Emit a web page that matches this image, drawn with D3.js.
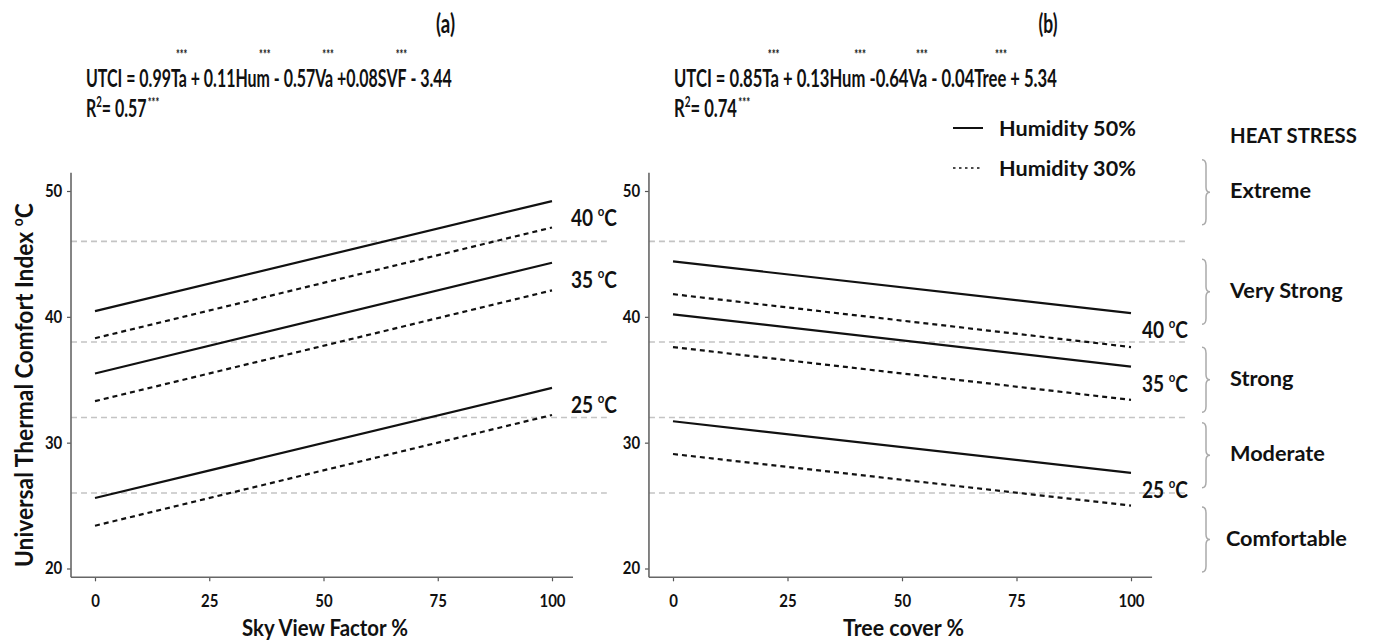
<!DOCTYPE html>
<html>
<head>
<meta charset="utf-8">
<script src="https://cdn.jsdelivr.net/npm/d3@7"></script>
<style>
  body { margin: 0; background: #fff; }
  svg { display: block; }
  text { font-family: Lato, "Open Sans", sans-serif; font-weight: 700; fill: #111; }
</style>
</head>
<body>
<svg id="chart" width="1373" height="641"></svg>
<script>
// values (UTCI, deg C) at 0% and 100% of the x variable
var tempLabels = ["40", "35", "25"];
var xEnds = [0, 100];
var svfHum50Start = [40.45, 35.5, 25.6];
var svfHum50End = [49.2, 44.3, 34.35];
var svfHum30Start = [38.3, 33.3, 23.4];
var svfHum30End = [47.1, 42.1, 32.2];
var treeHum50Start = [44.4, 40.2, 31.7];
var treeHum50End = [40.3, 36.05, 27.6];
var treeHum30Start = [41.8, 37.6, 29.1];
var treeHum30End = [37.6, 33.4, 25.0];
var thresholds = [46, 38, 32, 26];
var stressLabels = ["Extreme", "Very Strong", "Strong", "Moderate", "Comfortable"];
var stressLow = [46, 38, 32, 26, 18.6];
var stressHigh = [53.8, 46, 38, 32, 26];
var xTicks = [0, 25, 50, 75, 100];
var yTicks = [20, 30, 40, 50];

var svg = d3.select("#chart");

var ys = d3.scaleLinear().domain([20, 50]).range([568.5, 191]);
var xLo = -5.25, xHi = 104.6, yLo = 19.3, yHi = 51.45, refEnd = 112;

// one text element made of plain runs, inline superscripts and "***" marks
// placed over the end of the previous term
function richText(parent, x, y, opts, parts) {
  var g = parent.append("g");
  var t = g.append("text").attr("font-size", opts.size).style("white-space", "pre");
  var raise = 0, back = 0, hidden = 0;
  parts.forEach(function (p) {
    var kind = p[0], str = p[1], o = p[2] || {};
    var ts = t.append("tspan").text(str);
    if (kind === "star") {
      ts.attr("font-size", opts.starSize || 14);
      var sw = ts.node().getComputedTextLength();
      var dy = o.dy != null ? o.dy : -28;
      if (o.after) {
        ts.attr("dx", o.dx || 2);
        back = 0;
      } else {
        var over = o.over != null ? o.over : 8;
        ts.attr("dx", -(over + sw / 2));
        back = over - sw / 2;
        hidden += sw;
      }
      ts.attr("dy", dy - raise);
      raise = dy;
      return;
    }
    if (kind === "sup") {
      var d = -opts.size * 0.42;
      ts.attr("font-size", opts.size * 0.6).attr("dy", d - raise);
      raise = d;
    } else {
      if (raise) ts.attr("dy", -raise);
      if (back) ts.attr("dx", back);
      raise = 0;
      back = 0;
    }
  });
  var w = t.node().getComputedTextLength() - hidden;
  var sx = opts.width ? opts.width / w : (opts.sx || 1);
  var shift = opts.anchor === "middle" ? -w / 2 : opts.anchor === "end" ? -w : 0;
  t.attr("x", shift);
  g.attr("transform", "translate(" + x + "," + y + ")" +
    (opts.rotate ? " rotate(" + opts.rotate + ")" : "") + " scale(" + sx + ",1)");
  return sx;
}

var panels = [
  {
    x0: 95, x1: 552, title: "(a)", titleX: 445.5, labelDx: 65,
    xLabel: "Sky View Factor %", xLabelW: 166,
    h50s: svfHum50Start, h50e: svfHum50End, h30s: svfHum30Start, h30e: svfHum30End,
    eqX: 86, eqW: 366,
    eq: [["t", "UTCI = 0.99Ta"], ["star", "***"], ["t", " + 0.11Hum"], ["star", "***"],
         ["t", " - 0.57Va"], ["star", "***"], ["t", " +0.08SVF"], ["star", "***"], ["t", " - 3.44"]],
    r2: "= 0.57"
  },
  {
    x0: 673, x1: 1131, title: "(b)", titleX: 1048, labelDx: 57,
    xLabel: "Tree cover %", xLabelW: 121,
    h50s: treeHum50Start, h50e: treeHum50End, h30s: treeHum30Start, h30e: treeHum30End,
    eqX: 674, eqW: 383,
    eq: [["t", "UTCI = 0.85Ta"], ["star", "***"], ["t", " + 0.13Hum"], ["star", "***"],
         ["t", " -0.64Va"], ["star", "***"], ["t", " - 0.04Tree"], ["star", "***"], ["t", " + 5.34"]],
    r2: "= 0.74"
  }
];

var tempSx = null;

panels.forEach(function (p) {
  var xs = d3.scaleLinear().domain([0, 100]).range([p.x0, p.x1]);
  var g = svg.append("g");

  // heat stress thresholds
  g.selectAll("line.thr").data(thresholds).join("line")
    .attr("class", "thr")
    .attr("x1", xs(xLo)).attr("x2", xs(refEnd))
    .attr("y1", function (d) { return ys(d); })
    .attr("y2", function (d) { return ys(d); })
    .attr("stroke", "#c4c4c4").attr("stroke-width", 1.6)
    .attr("stroke-dasharray", "6,4");

  // axes
  var ax = g.append("g")
    .attr("transform", "translate(0," + ys(yLo) + ")")
    .call(d3.axisBottom(xs).tickValues(xTicks).tickSize(4).tickPadding(14).tickSizeOuter(0));
  var ay = g.append("g")
    .attr("transform", "translate(" + xs(xLo) + ",0)")
    .call(d3.axisLeft(ys).tickValues(yTicks).tickSize(4).tickPadding(6).tickSizeOuter(0));
  [ax, ay].forEach(function (a) {
    a.select(".domain").remove();
    a.attr("font-size", 17).attr("color", "#555");
    a.selectAll("line").attr("stroke-width", 1.2);
    a.selectAll("text").attr("transform", "scale(0.88,1)");
  });
  g.append("line")
    .attr("x1", xs(xLo)).attr("x2", xs(xHi))
    .attr("y1", ys(yLo)).attr("y2", ys(yLo))
    .attr("stroke", "#666").attr("stroke-width", 1.6);
  g.append("line")
    .attr("x1", xs(xLo)).attr("x2", xs(xLo))
    .attr("y1", ys(yLo)).attr("y2", ys(yHi))
    .attr("stroke", "#666").attr("stroke-width", 1.6);

  var line = d3.line()
    .x(function (d) { return xs(d[0]); })
    .y(function (d) { return ys(d[1]); });

  tempLabels.forEach(function (t, i) {
    var solid = [[xEnds[0], p.h50s[i]], [xEnds[1], p.h50e[i]]];
    var dashed = [[xEnds[0], p.h30s[i]], [xEnds[1], p.h30e[i]]];
    g.append("path").datum(solid).attr("d", line)
      .attr("fill", "none").attr("stroke", "#111").attr("stroke-width", 2.2);
    g.append("path").datum(dashed).attr("d", line)
      .attr("fill", "none").attr("stroke", "#111").attr("stroke-width", 2.2)
      .attr("stroke-dasharray", "5,4");
    var sx = richText(g, xs(xEnds[1]) + p.labelDx, ys(p.h50e[i]) + 25,
      { size: 23, anchor: "end", width: tempSx ? null : 46, sx: tempSx },
      [["t", t + " "], ["sup", "o"], ["t", "C"]]);
    if (!tempSx) tempSx = sx;
  });

  // axis title
  richText(g, (xs(xLo) + xs(xHi)) / 2 + 3, 636, { size: 22, anchor: "middle", width: p.xLabelW },
    [["t", p.xLabel]]);

  // equation, R2 and panel letter
  var eqSx = richText(g, p.eqX, 87, { size: 25, width: p.eqW }, p.eq);
  richText(g, p.eqX, 117, { size: 25, sx: eqSx },
    [["t", "R"], ["sup", "2"], ["t", p.r2], ["star", "***", { after: true, dx: 2, dy: -10 }]]);
  richText(g, p.titleX, 33, { size: 26, anchor: "middle", width: 19 }, [["t", p.title]]);
});

// y axis title
richText(svg, 33, 385, { size: 25, anchor: "middle", width: 364, rotate: -90 },
  [["t", "Universal Thermal Comfort Index "], ["sup", "o"], ["t", "C"]]);

// legend
var legendRows = [
  { label: "Humidity 50%", dash: null, width: 2 },
  { label: "Humidity 30%", dash: "2.5,3.5", width: 1.6 }
];
var legendSx = null;
legendRows.forEach(function (r, i) {
  var yy = 128 + i * 40;
  svg.append("line")
    .attr("x1", 953).attr("x2", 983).attr("y1", yy).attr("y2", yy)
    .attr("stroke", "#111").attr("stroke-width", r.width)
    .attr("stroke-dasharray", r.dash);
  var sx = richText(svg, 999, yy + 8, { size: 21, width: legendSx ? null : 137, sx: legendSx },
    [["t", r.label]]);
  if (!legendSx) legendSx = sx;
});

// heat stress categories with braces
richText(svg, 1230, 143, { size: 21, width: 127 }, [["t", "HEAT STRESS"]]);

function bracePath(x, y1, y2, w) {
  var m = (y1 + y2) / 2, h = w / 2;
  return "M" + x + "," + y1 +
    " Q" + (x + h) + "," + y1 + " " + (x + h) + "," + (y1 + 6) +
    " L" + (x + h) + "," + (m - 5) +
    " Q" + (x + h) + "," + m + " " + (x + w) + "," + m +
    " Q" + (x + h) + "," + m + " " + (x + h) + "," + (m + 5) +
    " L" + (x + h) + "," + (y2 - 6) +
    " Q" + (x + h) + "," + y2 + " " + x + "," + y2;
}

var stressSx = null;
stressLabels.forEach(function (s, i) {
  var c = (ys(stressLow[i]) + ys(stressHigh[i])) / 2;
  svg.append("path")
    .attr("d", bracePath(1202, c - 32.5, c + 32.5, 8))
    .attr("fill", "none").attr("stroke", "#aaa").attr("stroke-width", 1.5);
  var sx = richText(svg, s === "Comfortable" ? 1226 : 1230, c + 6,
    { size: 21, width: stressSx ? null : 81, sx: stressSx }, [["t", s]]);
  if (!stressSx) stressSx = sx;
});
</script>
</body>
</html>
